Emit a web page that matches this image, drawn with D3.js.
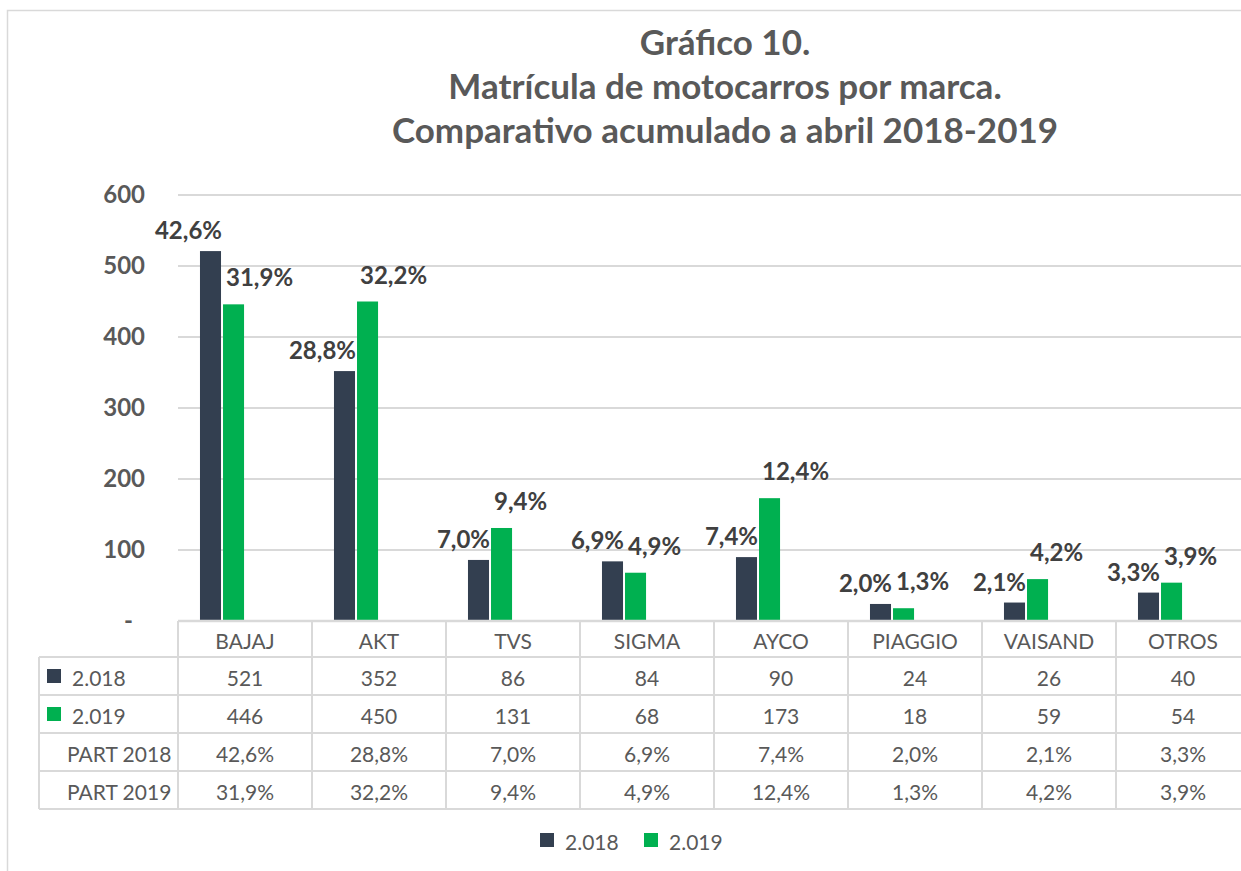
<!DOCTYPE html>
<html>
<head>
<meta charset="utf-8">
<script src="https://cdn.jsdelivr.net/npm/d3@7"></script>
<style>
  body { margin: 0; background: #fff; }
  svg { display: block; font-family: Lato, "Open Sans", sans-serif; }
</style>
</head>
<body>
<svg id="chart" width="1241" height="871"></svg>
<script>
// ---------- data ----------
const brands = ["BAJAJ", "AKT", "TVS", "SIGMA", "AYCO", "PIAGGIO", "VAISAND", "OTROS"];
const units2018 = [521, 352, 86, 84, 90, 24, 26, 40];
const units2019 = [446, 450, 131, 68, 173, 18, 59, 54];
const part2018 = ["42,6%", "28,8%", "7,0%", "6,9%", "7,4%", "2,0%", "2,1%", "3,3%"];
const part2019 = ["31,9%", "32,2%", "9,4%", "4,9%", "12,4%", "1,3%", "4,2%", "3,9%"];
const seriesNames = ["2.018", "2.019"];
const yTicks = [0, 100, 200, 300, 400, 500, 600];
const titleLines = ["Gráfico 10.", "Matrícula de motocarros por marca.", "Comparativo acumulado a abril 2018-2019"];

// ---------- layout ----------
const colDark = "#333f50", colGreen = "#00b050";
const gridCol = "#d9d9d9", textCol = "#595959", labelCol = "#404040";
const plotLeft = 178, plotRight = 1250, plotTop = 195, plotBottom = 621;
const tableLeft = 39, rowH = 38;

const svg = d3.select("#chart");

// outer chart border
svg.append("rect")
  .attr("x", 7.5).attr("y", 10.5)
  .attr("width", 1260).attr("height", 900)
  .attr("fill", "none").attr("stroke", gridCol).attr("stroke-width", 1.5);

// title
svg.append("g").selectAll("text")
  .data(titleLines)
  .join("text")
  .attr("x", 725)
  .attr("y", (d, i) => 55 + i * 44)
  .attr("text-anchor", "middle")
  .attr("font-size", 35)
  .attr("font-weight", "bold")
  .attr("fill", textCol)
  .text(d => d);

// scales
const x = d3.scaleBand().domain(brands).range([plotLeft, plotRight]);
const y = d3.scaleLinear().domain([0, 600]).range([plotBottom, plotTop]);
const bw = x.bandwidth();
const barW = bw * 0.157;
const darkOff = bw * 0.164;
const greenOff = darkOff + barW + 2;

// gridlines
svg.append("g").selectAll("line")
  .data(yTicks.filter(d => d > 0))
  .join("line")
  .attr("x1", plotLeft).attr("x2", plotRight)
  .attr("y1", d => y(d)).attr("y2", d => y(d))
  .attr("stroke", gridCol).attr("stroke-width", 2);

// y axis labels
const yAxis = svg.append("g")
  .attr("transform", `translate(145,0)`)
  .call(d3.axisLeft(y).tickValues(yTicks).tickSize(0).tickPadding(0)
    .tickFormat(d => d === 0 ? "-" : d));
yAxis.select(".domain").remove();
yAxis.selectAll("text")
  .attr("font-family", "Lato, sans-serif")
  .attr("font-size", 24)
  .attr("font-weight", "bold")
  .attr("fill", textCol)
  .attr("dx", d => d === 0 ? -12 : 0);

// bars
const rows = brands.map((b, i) => ({ b, v18: units2018[i], v19: units2019[i], p18: part2018[i], p19: part2019[i] }));

svg.append("g").selectAll("rect")
  .data(rows)
  .join("rect")
  .attr("x", d => x(d.b) + darkOff)
  .attr("y", d => y(d.v18))
  .attr("width", barW)
  .attr("height", d => y(0) - y(d.v18))
  .attr("fill", colDark);

svg.append("g").selectAll("rect")
  .data(rows)
  .join("rect")
  .attr("x", d => x(d.b) + greenOff)
  .attr("y", d => y(d.v19))
  .attr("width", barW)
  .attr("height", d => y(0) - y(d.v19))
  .attr("fill", colGreen);

// data labels (participation %)
svg.append("g").selectAll("text")
  .data(rows)
  .join("text")
  .attr("x", d => x(d.b) + darkOff + barW + 1)
  .attr("y", d => y(d.v18) - 12)
  .attr("text-anchor", "end")
  .attr("font-size", 24).attr("font-weight", "bold").attr("fill", labelCol)
  .text(d => d.p18);

svg.append("g").selectAll("text")
  .data(rows)
  .join("text")
  .attr("x", d => x(d.b) + greenOff + 3)
  .attr("y", d => y(d.v19) - 18)
  .attr("text-anchor", "start")
  .attr("font-size", 24).attr("font-weight", "bold").attr("fill", labelCol)
  .text(d => d.p19);

// ---------- data table ----------
const table = svg.append("g");
const headTop = plotBottom;
const bodyTop = headTop + 36;
const nRows = 4;
const bodyBottom = bodyTop + nRows * rowH;

// horizontal lines
table.append("line")
  .attr("x1", plotLeft).attr("x2", plotRight)
  .attr("y1", headTop).attr("y2", headTop)
  .attr("stroke", gridCol).attr("stroke-width", 2.5);
table.selectAll("line.h")
  .data(d3.range(nRows + 1))
  .join("line").attr("class", "h")
  .attr("x1", tableLeft).attr("x2", plotRight)
  .attr("y1", i => bodyTop + i * rowH).attr("y2", i => bodyTop + i * rowH)
  .attr("stroke", gridCol).attr("stroke-width", 2);

// vertical lines
table.append("line")
  .attr("x1", tableLeft).attr("x2", tableLeft)
  .attr("y1", bodyTop).attr("y2", bodyBottom)
  .attr("stroke", gridCol).attr("stroke-width", 2);
table.selectAll("line.v")
  .data(brands.map(b => x(b)).concat([plotRight]))
  .join("line").attr("class", "v")
  .attr("x1", d => d).attr("x2", d => d)
  .attr("y1", headTop).attr("y2", bodyBottom)
  .attr("stroke", gridCol).attr("stroke-width", 2);

const cellText = (sel) => sel
  .attr("font-size", 21).attr("fill", textCol)
  .attr("dominant-baseline", "central");

// header: brand names
table.selectAll("text.head")
  .data(brands)
  .join("text").attr("class", "head")
  .attr("x", d => x(d) + bw / 2)
  .attr("y", (headTop + bodyTop) / 2 + 1)
  .attr("text-anchor", "middle")
  .text(d => d)
  .call(cellText);

const bodyRows = [
  { label: seriesNames[0], key: colDark, vals: units2018 },
  { label: seriesNames[1], key: colGreen, vals: units2019 },
  { label: "PART 2018", key: null, vals: part2018 },
  { label: "PART 2019", key: null, vals: part2019 }
];

bodyRows.forEach((r, ri) => {
  const cy = bodyTop + ri * rowH + rowH / 2;
  if (r.key) {
    table.append("rect")
      .attr("x", 47).attr("y", cy - 7)
      .attr("width", 14).attr("height", 14)
      .attr("fill", r.key);
  }
  table.append("text")
    .attr("x", r.key ? 72 : 67)
    .attr("y", cy + 1)
    .text(r.label)
    .call(cellText);
  table.selectAll(null)
    .data(r.vals)
    .join("text")
    .attr("x", (d, i) => x(brands[i]) + bw / 2)
    .attr("y", cy + 1)
    .attr("text-anchor", "middle")
    .text(d => d)
    .call(cellText);
});

// ---------- legend ----------
const legend = svg.append("g").attr("transform", "translate(540,840)");
const legItems = legend.selectAll("g")
  .data(seriesNames)
  .join("g")
  .attr("transform", (d, i) => `translate(${i * 104},0)`);
legItems.append("rect")
  .attr("x", 0).attr("y", -7).attr("width", 14).attr("height", 14)
  .attr("fill", (d, i) => i === 0 ? colDark : colGreen);
legItems.append("text")
  .attr("x", 25).attr("y", 1)
  .text(d => d)
  .call(cellText);
</script>
</body>
</html>
